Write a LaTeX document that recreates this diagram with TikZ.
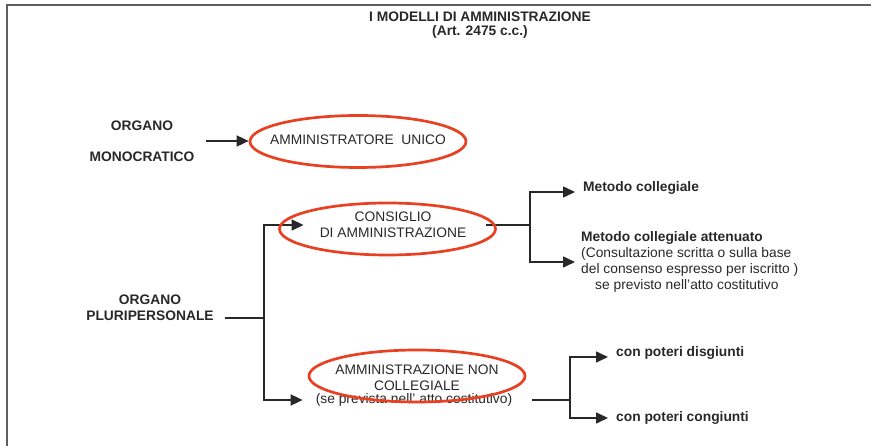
\documentclass[tikz,border=0pt]{standalone}
\usepackage{fontspec}
\setmainfont{Liberation Sans}
\usepackage{xcolor}
\usetikzlibrary{arrows.meta,positioning,shapes.geometric}

\definecolor{ringred}{RGB}{234,64,34}
\definecolor{inkgray}{RGB}{40,40,40}
\definecolor{framegray}{RGB}{95,95,95}

\begin{document}
\begin{tikzpicture}[
  x=1pt, y=-1pt,
  plain/.style={inner sep=2pt, text=inkgray, align=center, font=\fontsize{13.8}{16}\selectfont},
  heavy/.style={plain, font=\fontsize{13.8}{16}\selectfont\bfseries},
  leaf/.style={heavy, inner xsep=8pt},
  ring/.style={draw=ringred, line width=2.7pt, shape=ellipse, inner sep=0pt,
    minimum width=216pt, minimum height=52pt},
  wire/.style={draw=inkgray, line width=1.6pt},
  arr/.style={wire, -{Triangle[length=12pt, width=11pt]}},
]
\useasboundingbox (0,0) rectangle (871,446);

% ===== frame =====
\draw[framegray, line width=2pt] (7,446) -- (7,5) -- (871,5);

% ===== title =====
\node[heavy] (title) at (480,17) {I MODELLI DI AMMINISTRAZIONE};
\node[heavy] (art) at (480,32) {(Art. 2475 c.c.)};

% ===== organo monocratico =====
\node[heavy] (mono) at (142,141) {ORGANO\\[15pt]MONOCRATICO};
\node[plain] (unico) at (358,140) {AMMINISTRATORE\ \ UNICO};
\node[ring] (ring1) at (358,141.5) {};
\draw[arr, shorten <=9pt] (mono.east) -- (mono.east -| ring1.west);

% ===== organo pluripersonale =====
\node[heavy] (plu) at (150,308) {ORGANO\\PLURIPERSONALE};
\coordinate (fork1) at (264,318);
\draw[wire, shorten <=9pt] (plu.east |- fork1) -- (fork1);

% ===== consiglio di amministrazione =====
\node[plain] (cons) at (393,225) {CONSIGLIO\\DI AMMINISTRAZIONE};
\draw[arr, shorten >=14pt] (fork1) |- (cons.west);
\coordinate (fork2) at (530,225);
\draw[wire, shorten <=18pt] (cons.east) -- (fork2);
\node[leaf, anchor=base west] (met1) at (575,192) {Metodo collegiale};
\node[plain, anchor=west, align=left, inner xsep=6pt] (met2) at (575,262)
  {\textbf{Metodo collegiale attenuato}\\(Consultazione scritta o sulla base\\
   del consenso espresso per iscritto )\\\hspace*{14pt}se previsto nell’atto costitutivo};
\draw[arr] (fork2) |- (met1.base west);
\draw[arr] (fork2) |- (met2.west);

% ===== amministrazione non collegiale =====
\node[plain] (noncol) at (417,377.5) {AMMINISTRAZIONE NON\\COLLEGIALE};
\node[plain] (note) at (414,400) {(se prevista nell’ atto costitutivo)};
\draw[arr, shorten >=11pt] (fork1) |- (note.west);
\coordinate (fork3) at (570,400);
\draw[wire, shorten <=18pt] (note.east) -- (fork3);
\node[leaf, anchor=base west] (dis) at (608,357) {con poteri disgiunti};
\node[leaf, anchor=west] (cong) at (608,418) {con poteri congiunti};
\draw[arr] (fork3) |- (dis.base west);
\draw[arr] (fork3) |- (cong.west);

% ===== red rings =====
\node[ring] (ring2) at (387.5,229) {};
\node[ring] (ring3) at (417,376) {};

\end{tikzpicture}
\end{document}
